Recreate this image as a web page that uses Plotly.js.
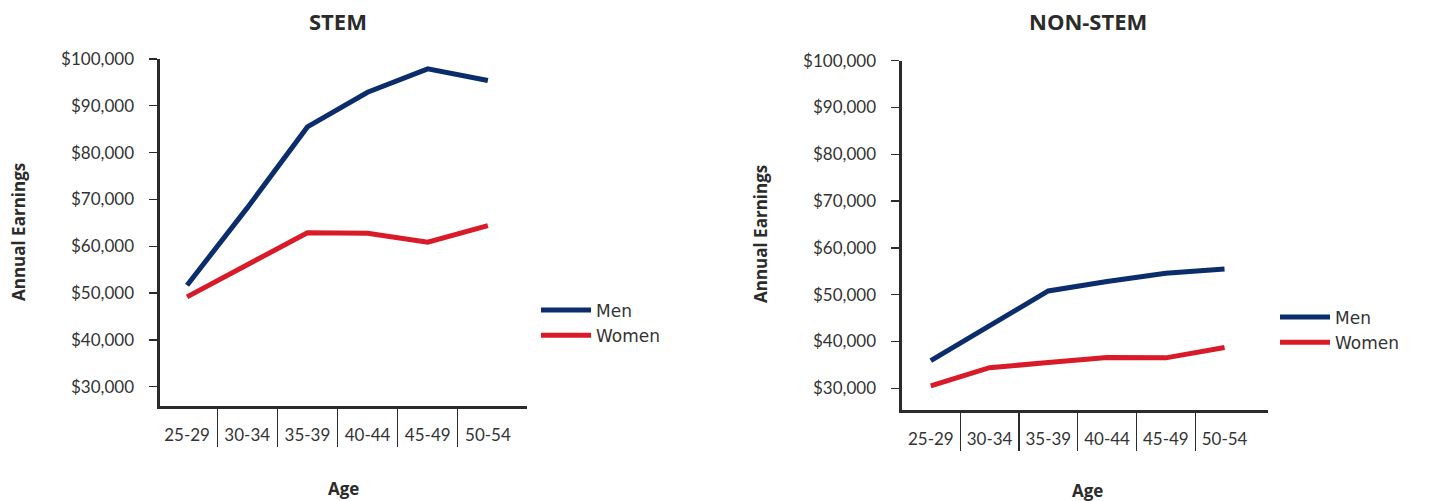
<!DOCTYPE html>
<html>
<head>
<meta charset="utf-8">
<script src="https://cdn.plot.ly/plotly-3.0.1.min.js"></script>
<style>html,body{margin:0;padding:0;background:#fff;}#chart{width:1433px;height:501px;}</style>
</head>
<body>
<div id="chart"></div>
<script>
const categories = ['25-29', '30-34', '35-39', '40-44', '45-49', '50-54'];
const stemMen = [51700, 68200, 85500, 92900, 97900, 95400];
const stemWomen = [49200, 56100, 62900, 62800, 60900, 64400];
const nonStemMen = [35900, 43500, 50800, 52800, 54600, 55500];
const nonStemWomen = [30500, 34400, 35500, 36600, 36500, 38700];
const yTickVals = [30000, 40000, 50000, 60000, 70000, 80000, 90000, 100000];
const yTickText = ['$30,000', '$40,000', '$50,000', '$60,000', '$70,000', '$80,000', '$90,000', '$100,000'];
const seriesNames = ['Men', 'Women'];
const panelTitles = ['STEM', 'NON-STEM'];

const MEN = '#0b2d6c';
const WOMEN = '#d91a28';
const INK = '#2b2b2b';
const TICKFONT = {family: 'Lato, "Open Sans", sans-serif', size: 17, color: '#333'};
const boundaries = categories.slice(1).map((_, i) => i + 0.5);

const traces = [
  {x: categories, y: stemMen, name: seriesNames[0], xaxis: 'x', yaxis: 'y', legend: 'legend',
   mode: 'lines', line: {color: MEN, width: 5}},
  {x: categories, y: stemWomen, name: seriesNames[1], xaxis: 'x', yaxis: 'y', legend: 'legend',
   mode: 'lines', line: {color: WOMEN, width: 5}},
  {x: categories, y: nonStemMen, name: seriesNames[0], xaxis: 'x2', yaxis: 'y2', legend: 'legend2',
   mode: 'lines', line: {color: MEN, width: 5}},
  {x: categories, y: nonStemWomen, name: seriesNames[1], xaxis: 'x2', yaxis: 'y2', legend: 'legend2',
   mode: 'lines', line: {color: WOMEN, width: 5}},
  {x: [0], y: [null], xaxis: 'x3', yaxis: 'y', showlegend: false, hoverinfo: 'skip', mode: 'lines'},
  {x: [0], y: [null], xaxis: 'x4', yaxis: 'y2', showlegend: false, hoverinfo: 'skip', mode: 'lines'}
];

const W = 1433, H = 501;
const leftRange = [-0.45, 5.65];
const rightRange = [-0.49, 5.74];

function xCat(domain, range, anchor) {
  return {domain: domain, anchor: anchor, type: 'category', range: range,
    showline: true, linewidth: 2.6, linecolor: INK, ticks: '', showgrid: false, zeroline: false,
    tickfont: TICKFONT, ticklabelstandoff: 12, fixedrange: true};
}
function xSep(overlay, range, anchor) {
  return {overlaying: overlay, anchor: anchor, type: 'linear', range: range,
    tickmode: 'array', tickvals: boundaries, showticklabels: false,
    ticks: 'outside', ticklen: 40, tickwidth: 1.3, tickcolor: INK,
    showline: false, showgrid: false, zeroline: false, fixedrange: true};
}
function yAx(domain, range, anchor) {
  return {domain: domain, anchor: anchor, range: range, showline: true, linewidth: 2.6, linecolor: INK,
    ticks: 'outside', ticklen: 8, tickwidth: 1.3, tickcolor: INK,
    tickmode: 'array', tickvals: yTickVals, ticktext: yTickText,
    tickfont: TICKFONT, ticklabelstandoff: 12, showgrid: false, zeroline: false, fixedrange: true};
}

const titleFont = {family: '"Open Sans", Lato, sans-serif', size: 22, color: INK, weight: 700};
const axFont = {family: '"Open Sans", Lato, sans-serif', size: 17, color: INK, weight: 700};
const legFont = {family: '"DejaVu Sans", Verdana, sans-serif', size: 17, color: '#333'};

const layout = {
  width: W, height: H,
  margin: {l: 0, r: 0, t: 0, b: 0},
  paper_bgcolor: '#fff', plot_bgcolor: '#fff',
  showlegend: true,
  xaxis: xCat([160 / W, 527 / W], leftRange, 'y'),
  yaxis: yAx([1 - 406 / H, 1 - 59 / H], [25900, 100000], 'x'),
  xaxis2: xCat([902 / W, 1268 / W], rightRange, 'y2'),
  yaxis2: yAx([1 - 410 / H, 1 - 60.7 / H], [25360, 100000], 'x2'),
  xaxis3: xSep('x', leftRange, 'y'),
  xaxis4: xSep('x2', rightRange, 'y2'),
  legend: {x: 536 / W, y: 1 - 323 / H, xanchor: 'left', yanchor: 'middle', bgcolor: 'rgba(0,0,0,0)',
    font: legFont, itemwidth: 50, tracegroupgap: 0},
  legend2: {x: 1275 / W, y: 1 - 330 / H, xanchor: 'left', yanchor: 'middle', bgcolor: 'rgba(0,0,0,0)',
    font: legFont, itemwidth: 50, tracegroupgap: 0},
  annotations: [
    {text: panelTitles[0], x: 338 / W, y: 1 - 21 / H, xref: 'paper', yref: 'paper', showarrow: false,
     xanchor: 'center', yanchor: 'middle', font: titleFont},
    {text: panelTitles[1], x: 1088 / W, y: 1 - 21 / H, xref: 'paper', yref: 'paper', showarrow: false,
     xanchor: 'center', yanchor: 'middle', font: titleFont},
    {text: 'Annual Earnings', x: 18 / W, y: 1 - 232 / H, xref: 'paper', yref: 'paper', showarrow: false,
     textangle: -90, xanchor: 'center', yanchor: 'middle', font: axFont},
    {text: 'Annual Earnings', x: 760 / W, y: 1 - 234 / H, xref: 'paper', yref: 'paper', showarrow: false,
     textangle: -90, xanchor: 'center', yanchor: 'middle', font: axFont},
    {text: 'Age', x: 343 / W, y: 1 - 488 / H, xref: 'paper', yref: 'paper', showarrow: false,
     xanchor: 'center', yanchor: 'middle', font: axFont},
    {text: 'Age', x: 1087 / W, y: 1 - 490 / H, xref: 'paper', yref: 'paper', showarrow: false,
     xanchor: 'center', yanchor: 'middle', font: axFont}
  ]
};

Plotly.newPlot('chart', traces, layout, {displayModeBar: false, staticPlot: true});
</script>
</body>
</html>
